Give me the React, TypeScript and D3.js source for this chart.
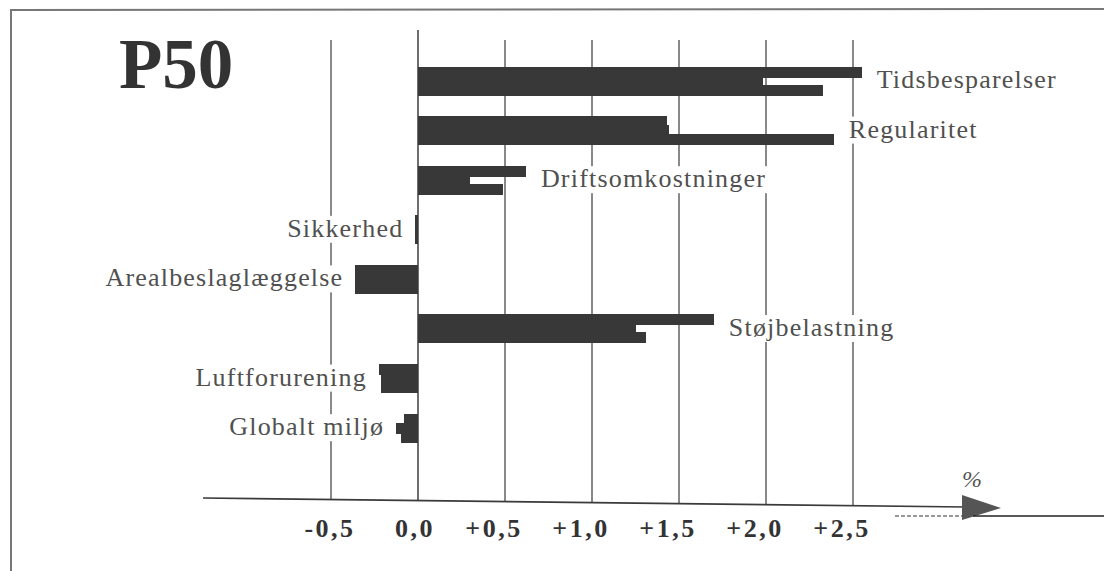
import React, { useEffect, useRef } from "react";
import * as d3 from "d3";

const categories = [
  "Tidsbesparelser",
  "Regularitet",
  "Driftsomkostninger",
  "Sikkerhed",
  "Arealbeslaglæggelse",
  "Støjbelastning",
  "Luftforurening",
  "Globalt miljø",
];
const seriesTop = [2.55, 1.43, 0.62, -0.015, -0.36, 1.7, -0.225, -0.08];
const seriesMid = [1.98, 1.44, 0.3, -0.015, -0.36, 1.25, -0.215, -0.125];
const seriesBottom = [2.33, 2.39, 0.49, -0.015, -0.36, 1.31, -0.21, -0.1];
const tickValues = [-0.5, 0, 0.5, 1, 1.5, 2, 2.5];
const tickLabels = ["-0,5", "0,0", "+0,5", "+1,0", "+1,5", "+2,0", "+2,5"];
const titleText = "P50";
const unitText = "%";

const W = 1104;
const H = 571;

export default function App() {
  const ref = useRef<SVGSVGElement | null>(null);

  useEffect(() => {
    const svg = d3.select(ref.current);
    svg.selectAll("*").remove();

    const serif = "'Liberation Serif', 'Times New Roman', serif";
    const x = d3.scaleLinear().domain([-0.5, 2.5]).range([331, 853]);
    const y = d3
      .scaleBand<string>()
      .domain(categories)
      .range([50, 457.2])
      .paddingInner(0.4556)
      .paddingOuter(0.3327);
    const sub = d3
      .scaleBand<string>()
      .domain(["top", "mid", "bottom"])
      .range([0, y.bandwidth()]);

    // axis line slightly tilted like the scanned original
    const axX0 = 203;
    const axX1 = 966;
    const axisY = d3.scaleLinear().domain([axX0, axX1]).range([498, 507]);

    // frame
    svg
      .append("path")
      .attr("d", `M11,${H} L11,10 L${W},9`)
      .attr("fill", "none")
      .attr("stroke", "#777")
      .attr("stroke-width", 2);

    // gridlines
    svg
      .append("g")
      .selectAll("line")
      .data(tickValues)
      .join("line")
      .attr("x1", (d) => x(d))
      .attr("x2", (d) => x(d))
      .attr("y1", (d) => (d === 0 ? 30 : 40))
      .attr("y2", (d) => axisY(x(d)))
      .attr("stroke", "#4a4a4a")
      .attr("stroke-width", (d) => (d === 0 ? 1.6 : 1.3));

    // labels (with white background to interrupt gridlines)
    const rows = categories.map((c, i) => {
      const vals = [seriesTop[i], seriesMid[i], seriesBottom[i]];
      const mx = d3.max(vals) as number;
      const mn = d3.min(vals) as number;
      const positive = mx > 0;
      return { c, i, positive, end: positive ? x(mx) : x(mn) };
    });

    const labelG = svg.append("g");
    const texts = labelG
      .selectAll("text")
      .data(rows)
      .join("text")
      .attr("x", (d) => (d.positive ? d.end + 15 : d.end - 12))
      .attr("y", (d) => (y(d.c) as number) + y.bandwidth() / 2 + 8)
      .attr("text-anchor", (d) => (d.positive ? "start" : "end"))
      .attr("font-family", serif)
      .attr("font-size", 26)
      .attr("letter-spacing", 1.2)
      .attr("fill", "#505050")
      .text((d) => d.c);

    texts.each(function () {
      const bb = (this as SVGTextElement).getBBox();
      labelG
        .insert("rect", "text")
        .attr("x", bb.x - 3)
        .attr("y", bb.y + 2)
        .attr("width", bb.width + 6)
        .attr("height", bb.height - 2)
        .attr("fill", "#fff");
    });

    // bars
    const barData: { c: string; k: string; v: number }[] = [];
    categories.forEach((c, i) => {
      barData.push({ c, k: "top", v: seriesTop[i] });
      barData.push({ c, k: "mid", v: seriesMid[i] });
      barData.push({ c, k: "bottom", v: seriesBottom[i] });
    });
    svg
      .append("g")
      .attr("shape-rendering", "crispEdges")
      .selectAll("rect")
      .data(barData)
      .join("rect")
      .attr("x", (d) => Math.min(x(0), x(d.v)))
      .attr("width", (d) => Math.abs(x(d.v) - x(0)))
      .attr("y", (d) => Math.round((y(d.c) as number) + (sub(d.k) as number)))
      .attr("height", Math.ceil(sub.bandwidth()) + 1)
      .attr("fill", "#383838");

    // x axis line
    svg
      .append("line")
      .attr("x1", axX0)
      .attr("x2", axX1)
      .attr("y1", axisY(axX0))
      .attr("y2", axisY(axX1))
      .attr("stroke", "#3a3a3a")
      .attr("stroke-width", 1.6);

    // arrow head
    svg
      .append("path")
      .attr("d", "M962,495 L1001,508 L962,520 Z")
      .attr("fill", "#555");

    // scan lines near arrow
    svg
      .append("line")
      .attr("x1", 895)
      .attr("x2", 962)
      .attr("y1", 516)
      .attr("y2", 516)
      .attr("stroke", "#333")
      .attr("stroke-width", 1)
      .attr("stroke-dasharray", "4,2");
    svg
      .append("line")
      .attr("x1", 973)
      .attr("x2", W)
      .attr("y1", 516)
      .attr("y2", 516)
      .attr("stroke", "#222")
      .attr("stroke-width", 1.5);

    // tick labels
    svg
      .append("g")
      .selectAll("text")
      .data(tickValues)
      .join("text")
      .attr("x", (d) => x(d) + (d > 0 ? -11 : d === 0 ? -3 : -1))
      .attr("y", 537)
      .attr("text-anchor", "middle")
      .attr("font-family", serif)
      .attr("font-weight", "bold")
      .attr("font-size", 26)
      .attr("letter-spacing", 2.5)
      .attr("fill", "#333")
      .text((d, i) => tickLabels[i]);

    // unit
    svg
      .append("text")
      .attr("x", 972)
      .attr("y", 487)
      .attr("text-anchor", "middle")
      .attr("font-family", serif)
      .attr("font-style", "italic")
      .attr("font-size", 24)
      .attr("fill", "#555")
      .text(unitText);

    // title
    svg
      .append("text")
      .attr("x", 119)
      .attr("y", 88)
      .attr("font-family", serif)
      .attr("font-weight", "bold")
      .attr("font-size", 71)
      .attr("fill", "#333")
      .text(titleText);
  }, []);

  return (
    <svg
      ref={ref}
      width={W}
      height={H}
      style={{ position: "absolute", left: 0, top: 0, display: "block", background: "#fff" }}
    />
  );
}
